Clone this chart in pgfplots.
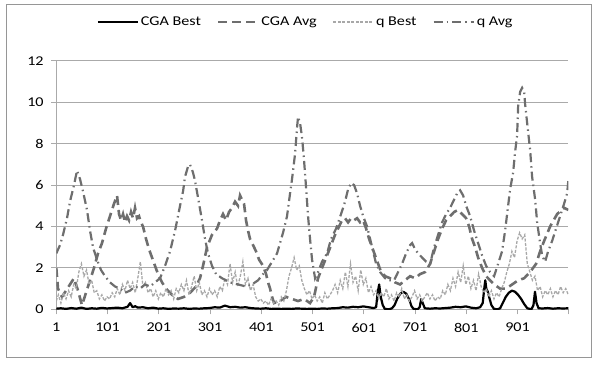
\documentclass[border=0pt]{standalone}
\usepackage{fontspec}
\setmainfont{Carlito}[FakeStretch=1.2]
\usepackage{pgfplots}
\pgfplotsset{compat=1.18}
\definecolor{avgc}{RGB}{110,110,110}
\definecolor{qbc}{RGB}{168,168,168}
\definecolor{gridc}{RGB}{170,170,170}
\definecolor{framec}{RGB}{150,150,150}
\begin{document}
\fontsize{13.5}{16}\selectfont
\begin{tikzpicture}
\useasboundingbox (0bp,0bp) rectangle (597bp,365bp);
\draw[color=framec, line width=1bp] (6bp,7bp) rectangle (591bp,360bp);
\begin{axis}[
  at={(56.3bp,55.7bp)}, anchor=south west,
  scale only axis, width=512bp, height=248.4bp,
  xmin=1, xmax=1000, ymin=0, ymax=12,
  axis x line*=bottom, axis y line*=left,
  axis line style={color=gridc, line width=1bp, -},
  ytick={0,2,...,12},
  xtick={1,101,201,301,401,501,601,701,801,901,1000},
  xticklabels={1,101,201,301,401,501,601,701,801,901,{}},
  ymajorgrids, grid style={color=gridc, line width=1bp},
  tick style={color=gridc, line width=1bp},
  tick align=outside, major tick length=5bp,
  /pgf/number format/assume math mode=true,
  tick label style={font=\fontsize{13.5}{16}\selectfont, text=black},
  xticklabel style={yshift=-4bp},
  yticklabel style={xshift=-3bp},
  legend columns=4,
  legend style={at={(0.487,1.157)}, anchor=center, draw=none, fill=none,
    font=\fontsize{13.5}{16}\selectfont,
    /tikz/every even column/.append style={column sep=14bp}},
  legend image code/.code={\draw[#1] (0bp,0bp) -- (40bp,0bp);},
]
\addplot[black, line width=2.2bp, line join=round] coordinates {
(1,0.03)(10,0.05)(20,0.02)(30,0.06)(40,0.03)(50,0.08)(60,0.02)(70,0.05)(80,0.03)(90,0.07)(100,0.04)(110,0.06)(120,0.08)(130,0.05)(140,0.12)(145,0.3)(150,0.1)(155,0.15)(160,0.08)(170,0.1)(180,0.05)(190,0.08)(200,0.03)(210,0.05)(220,0.02)(230,0.04)(240,0.03)(250,0.05)(260,0.02)(270,0.04)(280,0.03)(290,0.05)(300,0.06)(310,0.1)(320,0.08)(330,0.18)(340,0.1)(350,0.12)(360,0.08)(370,0.1)(380,0.06)(390,0.04)(400,0.03)(410,0.05)(420,0.02)(430,0.03)(440,0.02)(450,0.03)(460,0.02)(470,0.04)(480,0.03)(490,0.02)(500,0.03)(510,0.02)(520,0.04)(530,0.03)(540,0.05)(550,0.06)(560,0.1)(570,0.08)(580,0.12)(590,0.1)(600,0.14)(610,0.1)(620,0.06)(625,0.1)(628,0.8)(631,1.2)(634,0.6)(638,0.2)(642,0.02)(650,0.0)(656,0.05)(661,0.2)(666,0.5)(672,0.75)(678,0.85)(684,0.75)(690,0.45)(694,0.15)(698,0.02)(706,0.0)(710,0.1)(713,0.5)(716,0.3)(720,0.05)(730,0.03)(740,0.05)(750,0.04)(760,0.06)(770,0.08)(780,0.12)(790,0.1)(800,0.14)(810,0.08)(820,0.05)(828,0.1)(833,0.3)(836,1.0)(838,1.4)(840,1.0)(843,0.85)(846,0.55)(850,0.2)(855,0.02)(862,0.0)(867,0.05)(872,0.3)(878,0.6)(884,0.8)(890,0.9)(896,0.85)(902,0.7)(908,0.5)(914,0.25)(920,0.05)(928,0.0)(932,0.2)(935,0.85)(938,0.3)(942,0.05)(950,0.04)(960,0.06)(970,0.03)(980,0.05)(990,0.04)(1000,0.05)
};
\addlegendentry{CGA Best}
\addplot[avgc, line width=2.6bp, dash pattern=on 9bp off 5bp] coordinates {
(1,2.0)(4.3,1.0)(12.1,0.6)(19.9,0.9)(27.7,1.2)(35.5,1.5)(43.4,0.9)(51.1,0.2)(59.0,0.8)(66.8,1.4)(74.6,2.0)(82.4,2.7)(90.2,3.2)(98.0,3.9)(105.8,4.5)(113.6,5.1)(119.5,5.5)(123.4,4.6)(127.3,4.3)(131.2,4.6)(135.1,4.2)(139.0,4.5)(142.9,4.3)(146.8,4.7)(150.7,4.4)(154.6,4.9)(158.5,4.4)(162.4,4.5)(166.3,4.2)(170.2,4.0)(176.1,3.4)(181.9,2.9)(187.8,2.5)(193.6,2.1)(199.5,1.7)(207.3,1.3)(215.1,1.0)(226.8,0.7)(238.5,0.5)(250.2,0.6)(261.9,0.8)(273.6,1.1)(281.4,1.5)(287.3,2.1)(295.1,3.0)(304.8,3.6)(314.6,3.9)(320.5,4.3)(326.3,4.6)(332.2,4.3)(338.0,4.7)(343.9,4.9)(349.8,5.2)(355.6,5.0)(359.5,5.5)(363.4,5.3)(367.3,5.1)(371.2,4.3)(375.1,3.8)(379.0,3.4)(384.9,3.1)(390.7,2.8)(396.6,2.4)(404.4,2.1)(410.3,1.7)(414.2,1.3)(418.1,1.0)(422.0,0.6)(425.9,0.3)(437.6,0.4)(449.3,0.6)(461.0,0.5)(472.7,0.4)(484.4,0.5)(496.1,0.3)(503.9,0.6)(511.7,1.5)(519.5,2.0)(529.3,2.6)(537.1,3.1)(544.9,3.6)(552.7,4.0)(558.6,4.3)(564.4,4.4)(570.3,4.2)(576.2,4.4)(582.0,4.3)(587.9,4.4)(593.7,4.2)(599.6,4.3)(605.5,3.9)(611.3,3.4)(617.2,3.0)(623.0,2.6)(628.9,2.2)(634.7,1.8)(642.5,1.6)(652.3,1.5)(662.0,1.3)(671.8,1.2)(681.5,1.4)(691.3,1.6)(701.1,1.5)(710.8,1.7)(720.6,1.8)(730.4,2.2)(738.2,2.8)(746.0,3.4)(753.8,3.9)(761.6,4.3)(769.4,4.5)(777.2,4.7)(785.0,4.8)(792.8,4.6)(800.6,4.4)(806.5,4.0)(812.3,3.4)(818.2,3.0)(824.0,2.5)(831.8,2.0)(839.6,1.6)(847.4,1.4)(855.2,1.2)(866.9,1.0)(878.7,1.0)(890.4,1.2)(902.1,1.4)(913.8,1.5)(925.5,1.8)(937.2,2.2)(945.0,2.8)(952.8,3.3)(964.5,4.0)(978.2,4.6)(991.8,4.9)(1000,4.8)
};
\addlegendentry{CGA Avg}
\addplot[qbc, line width=1.3bp, dash pattern=on 3bp off 1.5bp] coordinates {
(1,0.4)(5,0.7)(10,0.3)(15,0.8)(20,0.5)(25,0.9)(30,0.6)(35,1.2)(40,1.0)(45,1.8)(50,2.2)(55,1.6)(60,1.9)(65,1.2)(70,1.4)(75,0.8)(80,0.9)(85,0.5)(90,0.7)(95,0.4)(100,0.6)(105,0.5)(110,0.8)(115,0.6)(120,1.0)(125,0.7)(130,1.2)(135,0.9)(140,1.4)(145,1.0)(150,1.3)(155,0.8)(160,1.5)(165,2.3)(170,1.1)(175,1.3)(180,0.8)(185,1.0)(190,0.6)(195,0.9)(200,0.5)(205,0.8)(210,0.6)(215,1.0)(220,0.7)(225,0.9)(230,0.5)(235,1.0)(240,0.8)(245,1.2)(250,0.9)(255,1.4)(260,0.7)(265,1.1)(270,1.6)(275,0.9)(280,1.3)(285,0.7)(290,0.9)(295,0.6)(300,1.0)(305,0.7)(310,0.9)(315,0.6)(320,1.1)(325,0.9)(330,1.5)(335,1.2)(340,2.2)(345,1.3)(350,1.8)(355,1.1)(360,1.6)(365,2.3)(370,1.2)(375,1.5)(380,0.9)(385,1.2)(390,0.6)(395,0.4)(400,0.5)(405,0.3)(410,0.4)(415,0.2)(420,0.5)(425,0.3)(430,0.4)(435,0.2)(440,0.6)(445,0.4)(450,0.9)(455,1.6)(460,2.0)(465,2.5)(470,1.9)(475,2.1)(480,1.4)(485,1.0)(490,0.7)(495,0.9)(500,0.5)(505,0.7)(510,0.4)(515,0.6)(520,0.3)(525,0.8)(530,0.5)(535,0.7)(540,0.9)(545,1.2)(550,0.8)(555,1.4)(560,1.0)(565,1.8)(570,1.1)(575,2.2)(580,1.3)(585,1.6)(590,0.9)(595,1.9)(600,1.2)(605,1.5)(610,0.8)(615,1.1)(620,0.7)(625,0.9)(630,0.5)(635,0.8)(640,0.6)(645,1.0)(650,0.5)(655,0.7)(660,0.4)(665,0.8)(670,0.6)(675,1.0)(680,0.5)(685,0.7)(690,0.4)(695,0.6)(700,0.9)(705,0.5)(710,0.7)(715,0.4)(720,0.6)(725,0.8)(730,0.5)(735,0.7)(740,0.4)(745,0.6)(750,0.5)(755,0.9)(760,0.7)(765,1.2)(770,0.9)(775,1.5)(780,1.1)(785,1.8)(790,1.3)(795,2.1)(800,1.2)(805,1.6)(810,1.0)(815,1.4)(820,0.9)(825,1.7)(830,1.1)(835,0.8)(840,1.0)(845,0.6)(850,0.9)(855,0.5)(860,0.8)(865,0.6)(870,1.0)(875,1.3)(880,1.8)(885,2.2)(890,2.8)(895,2.5)(900,3.3)(905,3.7)(910,3.4)(915,3.6)(920,2.2)(925,1.8)(930,1.4)(935,1.6)(940,0.9)(945,1.1)(950,0.6)(955,0.9)(960,0.7)(965,1.0)(970,0.6)(975,0.9)(980,0.7)(985,1.1)(990,0.8)(995,1.0)(1000,0.7)
};
\addlegendentry{q Best}
\addplot[avgc, line width=2.2bp, dash pattern=on 9bp off 4bp on 1.5bp off 4bp] coordinates {
(1,2.7)(8.2,3.1)(14.1,3.6)(21.9,4.4)(27.7,5.2)(35.5,6.0)(41.4,6.7)(47.2,6.3)(53.1,5.7)(60.9,4.8)(66.8,3.8)(72.6,3.0)(80.4,2.4)(88.2,1.9)(96.0,1.6)(105.8,1.3)(115.6,1.1)(125.3,1.0)(135.1,0.8)(144.8,0.9)(154.6,1.1)(164.3,1.0)(174.1,1.2)(183.9,1.1)(193.6,1.3)(203.4,1.5)(213.2,2.1)(222.9,2.8)(232.7,3.8)(242.4,5.0)(248.3,5.7)(252.2,6.4)(258.0,6.9)(261.9,7.0)(267.8,6.6)(271.7,6.2)(277.5,5.4)(285.3,4.3)(291.2,3.4)(297.0,2.7)(304.8,2.1)(312.7,1.7)(324.4,1.5)(340.0,1.3)(355.6,1.2)(371.2,1.1)(382.9,1.2)(394.6,1.4)(404.4,1.7)(412.2,1.9)(422.0,2.3)(431.7,2.7)(443.4,3.7)(451.2,4.5)(457.1,5.6)(461.0,6.3)(466.8,7.5)(470.8,8.8)(472.7,9.3)(476.6,9.0)(480.5,8.3)(484.4,7.2)(488.3,5.9)(492.2,4.5)(496.1,3.4)(500.0,2.4)(505.9,1.5)(511.7,1.8)(519.5,2.3)(529.3,2.7)(537.1,3.4)(546.9,3.9)(556.6,4.6)(564.4,5.2)(570.3,5.8)(576.2,6.1)(582.0,6.0)(587.9,5.6)(593.7,5.0)(599.6,4.5)(607.4,4.0)(613.3,3.4)(619.1,2.8)(625.0,2.2)(632.8,1.8)(642.5,1.5)(652.3,1.4)(660.1,1.4)(667.9,1.8)(675.7,2.2)(683.5,2.7)(691.3,3.1)(695.2,3.2)(701.1,2.9)(707.0,2.7)(714.7,2.5)(722.6,2.3)(730.4,2.2)(738.2,3.0)(746.0,3.6)(753.8,4.2)(761.6,4.6)(769.4,4.9)(777.2,5.3)(783.0,5.6)(788.9,5.75)(794.8,5.5)(800.6,5.0)(808.4,4.5)(816.2,3.8)(824.0,3.2)(831.8,2.6)(839.6,2.1)(847.4,1.8)(855.2,1.6)(863.0,2.2)(870.8,2.8)(876.7,3.8)(880.6,4.6)(886.5,5.8)(892.3,6.6)(896.2,7.6)(900.1,8.4)(902.1,9.8)(906.0,10.5)(909.9,10.7)(913.8,10.5)(915.8,9.9)(919.7,9.0)(925.5,7.7)(929.4,6.4)(935.3,5.3)(939.2,4.2)(945.0,3.2)(948.9,2.6)(954.8,2.3)(960.6,2.8)(968.4,3.3)(976.2,3.9)(984.0,4.5)(991.8,5.1)(997.7,5.6)(1000,6.2)
};
\addlegendentry{q Avg}
\end{axis}
\end{tikzpicture}
\end{document}
